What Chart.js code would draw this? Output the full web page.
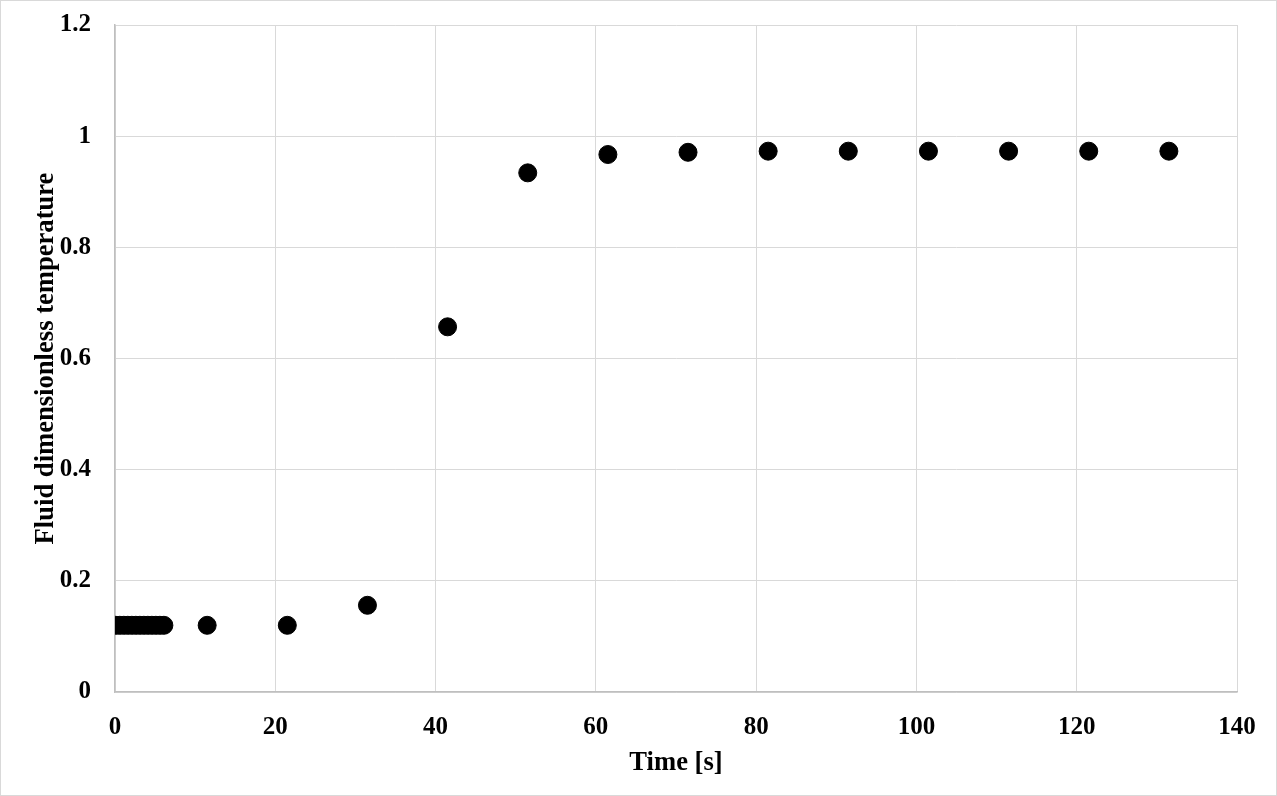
<!DOCTYPE html>
<html><head><meta charset="utf-8">
<script src="https://cdn.jsdelivr.net/npm/chart.js@4"></script>
<style>html,body{margin:0;padding:0;background:#fff}#wrap{width:1277px;height:796px;position:relative}</style>
</head><body><div id="wrap"><canvas id="c"></canvas></div>
<script>
const timeS = [0.1,0.6,1.1,1.6,2.1,2.6,3.1,3.6,4.1,4.6,5.1,5.6,6.1,11.5,21.5,31.5,41.5,51.5,61.5,71.5,81.5,91.5,101.5,111.5,121.5,131.5];
const fluidTemp = [0.12,0.12,0.12,0.12,0.12,0.12,0.12,0.12,0.12,0.12,0.12,0.12,0.12,0.12,0.12,0.156,0.657,0.934,0.967,0.971,0.973,0.973,0.973,0.973,0.973,0.973];
const xTickLabels = ['0','20','40','60','80','100','120','140'];
const yTickLabels = ['0','0.2','0.4','0.6','0.8','1','1.2'];
const xTitle = 'Time [s]';
const yTitle = 'Fluid dimensionless temperature';

const fam = '"Liberation Serif","Times New Roman",serif';
const tickFont = {family:fam, weight:'bold', size:25};
const titleFont = {family:fam, weight:'bold', size:26.6};
const frame = {id:'frame', beforeDraw(ch){const c=ch.ctx;c.save();c.fillStyle='#fff';c.fillRect(0,0,ch.width,ch.height);c.restore();},
  afterDraw(ch){const c=ch.ctx;c.save();c.strokeStyle='#d9d9d9';c.lineWidth=1;c.strokeRect(0.5,0.5,ch.width-1,ch.height-1);c.restore();}};
new Chart(document.getElementById('c'), {
  type:'scatter',
  data:{datasets:[{data:timeS.map((x,i)=>({x:x,y:fluidTemp[i]})), backgroundColor:'#000', borderColor:'#000', pointRadius:9, pointHoverRadius:9}]},
  options:{responsive:true, maintainAspectRatio:false, animation:false, devicePixelRatio:1,
    layout:{padding:{left:0,top:25,right:40,bottom:0}},
    plugins:{legend:{display:false}, tooltip:{enabled:false}},
    scales:{
      x:{type:'linear', min:0, max:140, afterFit(s){s.height=104;s.paddingLeft=0;s.paddingRight=0;},
        ticks:{stepSize:20, color:'#000', font:tickFont, padding:21, maxRotation:0, callback:(v)=>{const i=Math.round(v/20);return xTickLabels[i];}},
        grid:{color:'#d9d9d9', drawTicks:false}, border:{color:'#bfbfbf', width:1.5},
        title:{display:true, text:xTitle, color:'#000', font:titleFont, padding:{top:0,bottom:17}}},
      y:{min:0, max:1.2, afterFit(s){s.width=115;s.paddingTop=0;s.paddingBottom=0;},
        ticks:{stepSize:0.2, color:'#000', font:tickFont, padding:24, callback:(v)=>{const i=Math.round(v/0.2);return yTickLabels[i];}},
        grid:{color:'#d9d9d9', drawTicks:false}, border:{color:'#bfbfbf', width:1.5},
        title:{display:true, text:yTitle, color:'#000', font:titleFont, padding:{top:30,bottom:0}}}
    }},
  plugins:[frame]
});
</script></body></html>
